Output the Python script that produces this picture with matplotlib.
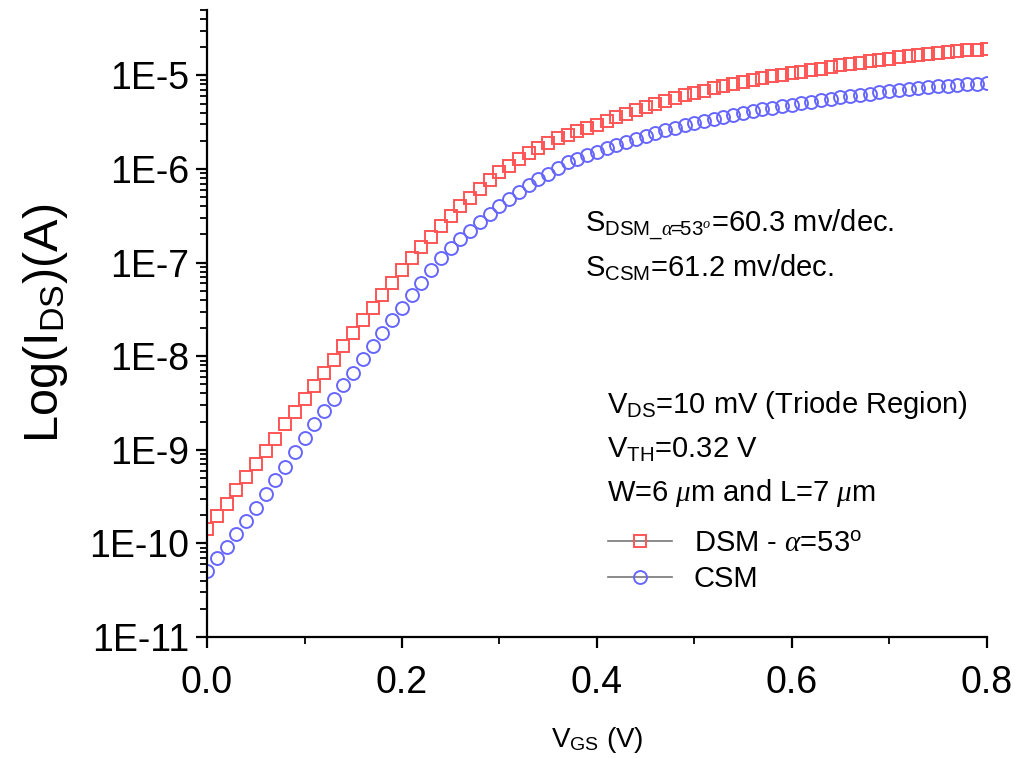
import numpy as np
import matplotlib
matplotlib.use("Agg")
import matplotlib.pyplot as plt
from matplotlib.lines import Line2D
from matplotlib.ticker import FixedLocator, FuncFormatter, LogLocator

plt.rcParams['font.family'] = ['Liberation Sans', 'DejaVu Sans']
plt.rcParams['mathtext.fontset'] = 'custom'
plt.rcParams['mathtext.rm'] = 'Liberation Sans'
plt.rcParams['mathtext.it'] = 'Liberation Serif:italic'

# gate voltage sweep (V)
vgs = np.round(np.arange(0, 81) * 0.01, 2)

# drain current, DSM alpha=53 deg (A)
ids_dsm = [
    1.42e-10, 1.97e-10, 2.67e-10, 3.71e-10, 5.07e-10, 6.98e-10, 9.68e-10, 1.32e-9, 1.87e-9, 2.52e-9,
    3.48e-9, 4.84e-9, 6.70e-9, 9.06e-9, 1.29e-8, 1.75e-8, 2.42e-8, 3.31e-8, 4.48e-8, 6.12e-8,
    8.28e-8, 1.12e-7, 1.46e-7, 1.88e-7, 2.44e-7, 3.13e-7, 3.99e-7, 4.94e-7, 6.17e-7, 7.57e-7,
    9.20e-7, 1.08e-6, 1.27e-6, 1.47e-6, 1.68e-6, 1.90e-6, 2.12e-6, 2.32e-6, 2.52e-6, 2.72e-6,
    2.92e-6, 3.23e-6, 3.56e-6, 3.88e-6, 4.23e-6, 4.58e-6, 4.99e-6, 5.37e-6, 5.75e-6, 6.11e-6,
    6.47e-6, 6.89e-6, 7.26e-6, 7.62e-6, 8.11e-6, 8.55e-6, 8.95e-6, 9.40e-6, 9.75e-6, 1.01e-5,
    1.05e-5, 1.09e-5, 1.13e-5, 1.18e-5, 1.22e-5, 1.28e-5, 1.33e-5, 1.36e-5, 1.42e-5, 1.47e-5,
    1.51e-5, 1.56e-5, 1.61e-5, 1.66e-5, 1.70e-5, 1.75e-5, 1.78e-5, 1.82e-5, 1.85e-5, 1.89e-5,
    1.93e-5,
]

# drain current, CSM (A)
ids_csm = [
    5.11e-11, 7.03e-11, 9.20e-11, 1.26e-10, 1.72e-10, 2.40e-10, 3.37e-10, 4.74e-10, 6.61e-10, 9.44e-10,
    1.33e-9, 1.87e-9, 2.59e-9, 3.52e-9, 4.94e-9, 6.64e-9, 9.23e-9, 1.29e-8, 1.79e-8, 2.42e-8,
    3.31e-8, 4.48e-8, 6.12e-8, 8.28e-8, 1.12e-7, 1.44e-7, 1.77e-7, 2.18e-7, 2.72e-7, 3.33e-7,
    3.99e-7, 4.82e-7, 5.68e-7, 6.68e-7, 7.76e-7, 8.91e-7, 1.02e-6, 1.18e-6, 1.28e-6, 1.40e-6,
    1.52e-6, 1.66e-6, 1.81e-6, 1.96e-6, 2.11e-6, 2.27e-6, 2.43e-6, 2.59e-6, 2.75e-6, 2.92e-6,
    3.10e-6, 3.27e-6, 3.44e-6, 3.62e-6, 3.80e-6, 3.97e-6, 4.16e-6, 4.34e-6, 4.52e-6, 4.70e-6,
    4.88e-6, 5.06e-6, 5.25e-6, 5.43e-6, 5.62e-6, 5.82e-6, 6.01e-6, 6.21e-6, 6.38e-6, 6.58e-6,
    6.76e-6, 6.95e-6, 7.11e-6, 7.29e-6, 7.46e-6, 7.62e-6, 7.78e-6, 7.91e-6, 8.05e-6, 8.17e-6,
    8.30e-6,
]

xticks = [0.0, 0.2, 0.4, 0.6, 0.8]
yticks = [1e-11, 1e-10, 1e-9, 1e-8, 1e-7, 1e-6, 1e-5]

red = '#ff5555'
blue = '#6666ff'

fig = plt.figure(figsize=(10.15, 7.58), dpi=100)
ax = fig.add_axes([0.204, 0.1596, 0.768, 0.8272])

ax.plot(vgs, ids_dsm, linestyle='none', marker='s', ms=8.3, mfc='none', mec=red, mew=1.4)
ax.plot(vgs, ids_csm, linestyle='none', marker='o', ms=9.3, mfc='none', mec=blue, mew=1.4)

ax.set_yscale('log')
ax.set_xlim(0, 0.8)
ax.set_ylim(1e-11, 5e-5)

for s in ['top', 'right']:
    ax.spines[s].set_visible(False)
for s in ['left', 'bottom']:
    ax.spines[s].set_linewidth(1.6)

ax.xaxis.set_major_locator(FixedLocator(xticks))
ax.xaxis.set_minor_locator(FixedLocator([0.1, 0.3, 0.5, 0.7]))
ax.xaxis.set_major_formatter(FuncFormatter(lambda v, p: f"{v:.1f}"))
ax.yaxis.set_major_locator(FixedLocator(yticks))
ax.yaxis.set_minor_locator(LogLocator(base=10, subs=np.arange(2, 10)))
ax.yaxis.set_major_formatter(FuncFormatter(lambda v, p: f"1E{int(round(np.log10(v)))}"))

ax.tick_params(which='major', direction='out', length=8, width=1.6, labelsize=27)
ax.tick_params(which='minor', direction='out', length=5, width=1.3)
ax.tick_params(axis='x', which='major', pad=12)
ax.tick_params(axis='y', which='major', pad=5)

ax.set_ylabel(r'Log(I$_{\mathrm{DS}}$)(A)', fontsize=35)
ax.yaxis.set_label_coords(-0.176, 0.5)
ax.set_xlabel(r'V$_{\mathrm{GS}}$ (V)', fontsize=20)
ax.xaxis.set_label_coords(0.5, -0.14)

tx = ax.transAxes
fs = 21
ax.text(0.485, 0.657, r'S$_{\mathrm{DSM\_}\alpha\!\!=\!\!\mathrm{53}^{o}}$=60.3 mv/dec.', transform=tx, fontsize=fs, va='center')
ax.text(0.485, 0.589, r'S$_{\mathrm{CSM}}$=61.2 mv/dec.', transform=tx, fontsize=fs, va='center')
ax.text(0.513, 0.370, r'V$_{\mathrm{DS}}$=10 mV (Triode Region)', transform=tx, fontsize=fs, va='center')
ax.text(0.513, 0.298, r'V$_{\mathrm{TH}}$=0.32 V', transform=tx, fontsize=fs, va='center')
ax.text(0.513, 0.230, r'W=6 $\mu$m and L=7 $\mu$m', transform=tx, fontsize=fs, va='center')

handles = [
    Line2D([], [], color='#777777', lw=1.2, marker='s', ms=8.3, mfc='none', mec=red, mew=1.4),
    Line2D([], [], color='#777777', lw=1.2, marker='o', ms=9.3, mfc='none', mec=blue, mew=1.4),
]
labels = [r'DSM - $\alpha$=53$^{\mathrm{o}}$', 'CSM']
leg = ax.legend(handles, labels, loc='upper left', bbox_to_anchor=(0.495, 0.196), frameon=False,
                fontsize=fs, handlelength=2.2, handletextpad=0.75, labelspacing=0.3, borderpad=0)

fig.savefig('out.png', dpi=100)
